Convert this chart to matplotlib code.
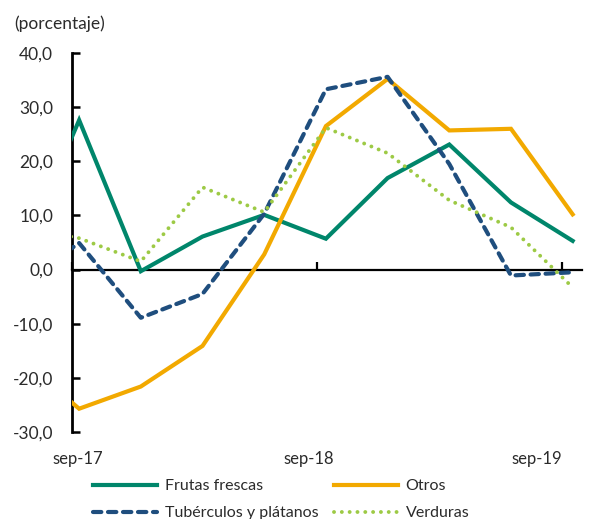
import matplotlib
matplotlib.use("Agg")
import matplotlib.pyplot as plt
import numpy as np

# Quarterly observations (jun-17 ... sep-19), first one lies before the axis start
periods = ["jun-17", "sep-17", "dic-17", "mar-18", "jun-18", "sep-18",
           "dic-18", "mar-19", "jun-19", "sep-19"]
frutas = [1.0, 27.6, -0.3, 6.1, 10.1, 5.7, 16.9, 23.1, 12.4, 5.3]
otros = [-16.0, -25.7, -21.6, -14.1, 2.8, 26.5, 35.2, 25.7, 26.0, 10.2]
tuberculos = [-3.0, 4.9, -8.9, -4.5, 10.3, 33.3, 35.6, 19.5, -1.1, -0.5]
verduras = [8.0, 5.8, 1.5, 15.2, 10.6, 26.2, 21.5, 12.8, 7.8, -3.3]

tick_labels = ["sep-17", "sep-18", "sep-19"]
y_ticks = [-30, -20, -10, 0, 10, 20, 30, 40]

# months after sep-17 for each observation
x = np.array([-3 + 3 * i for i in range(len(periods))]) * 1.008 + 0.35

plt.rcParams['font.family'] = ['Lato', 'DejaVu Sans']
txt = '#2b2b2b'

fig = plt.figure(figsize=(6.01, 5.19), dpi=100)
ax = fig.add_axes([72 / 601, 1 - 432 / 519, (582 - 72) / 601, (432 - 53) / 519])

c_fr = '#00866B'
c_ot = '#F2A900'
c_tu = '#1F4E7E'
c_ve = '#9DCA45'

l1, = ax.plot(x, frutas, color=c_fr, lw=3.0, solid_joinstyle='miter', label='Frutas frescas', zorder=3)
l2, = ax.plot(x, tuberculos, color=c_tu, lw=3.0, dashes=(2.0, 1.6), dash_capstyle='round',
              label='Tubérculos y plátanos', zorder=4)
l3, = ax.plot(x, otros, color=c_ot, lw=3.0, solid_joinstyle='miter', label='Otros', zorder=3)
l4, = ax.plot(x, verduras, color=c_ve, lw=2.8, linestyle=(0, (0.01, 2.0)), dash_capstyle='round',
              label='Verduras', zorder=5)

ax.set_xlim(0, 25)
ax.set_ylim(-30, 40)

for s in ['top', 'right']:
    ax.spines[s].set_visible(False)
ax.spines['left'].set_linewidth(2.0)
ax.spines['bottom'].set_position(('data', 0))
ax.spines['bottom'].set_linewidth(1.6)

ax.set_yticks(y_ticks)
ax.set_yticklabels([f"{v:.1f}".replace('.', ',') for v in y_ticks])
ax.tick_params(axis='y', direction='in', length=6, width=1.8, pad=13.5,
               labelsize=12.5, labelcolor=txt)

ax.set_xticks([0, 12, 24])
ax.set_xticklabels([])
ax.tick_params(axis='x', direction='in', length=6, width=1.6)

label_pos = [0.3, 11.6, 22.8]
for lp, lab in zip(label_pos, tick_labels):
    ax.text(lp, -35, lab, ha='center', va='center', fontsize=12, color=txt)

fig.text(14 / 601, 1 - 24 / 519, "(porcentaje)", ha='left', va='center',
         fontsize=12.5, color=txt)

leg = fig.legend(handles=[l1, l2, l3, l4], ncol=2, frameon=False,
                 loc='upper left', bbox_to_anchor=(93 / 601, 1 - 479 / 519),
                 fontsize=11.5, handlelength=4.0, handletextpad=0.5,
                 columnspacing=0.95, labelspacing=0.8, borderpad=0, borderaxespad=0)
for t in leg.get_texts():
    t.set_color(txt)

fig.savefig('out.png', dpi=100)
